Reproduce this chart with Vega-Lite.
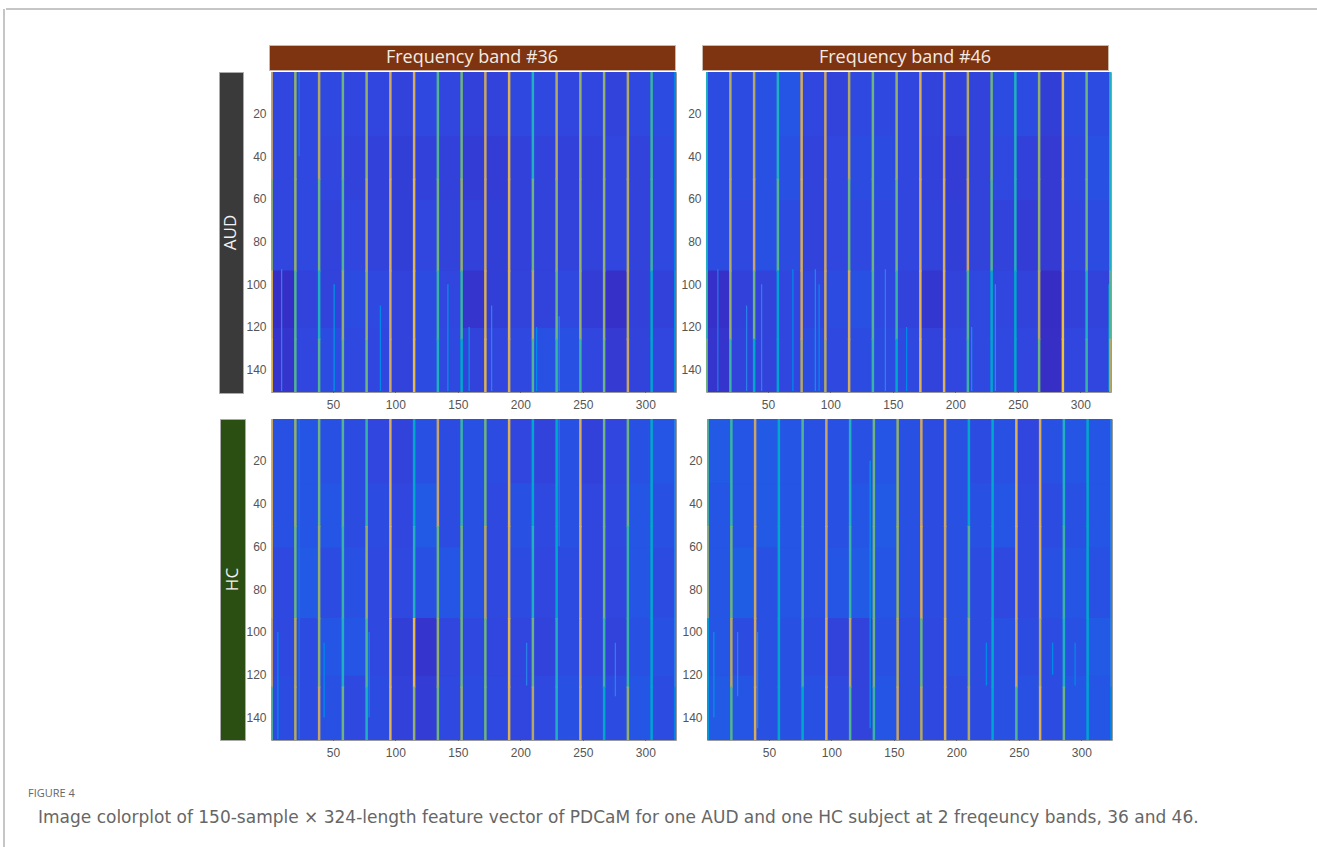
{"$schema":"https://vega.github.io/schema/vega-lite/v6.json","padding":{"left":3,"top":8,"right":0,"bottom":0},"background":"white","spacing":0,
"config":{"axis":{"labelFont":"Liberation Sans","labelFontSize":12,"labelColor":"#555","grid":false,"domain":false,"title":null,"tickColor":"#333","tickSize":-3,"labelPadding":10,"labelFlush":false,"labelOverlap":false}},
"datasets":{"e":[{"t":""}],
"h1":[{"t":"Frequency band #36"}],"h2":[{"t":"Frequency band #46"}],"r1":[{"t":"AUD"}],"r2":[{"t":"HC"}],
"c1":[{"t":"FIGURE 4"}],"c2":[{"t":"Image colorplot of 150-sample × 324-length feature vector of PDCaM for one AUD and one HC subject at 2 freqeuncy bands, 36 and 46."}],
"f1":[{"x":9,"y":93,"y2":150,"v":50},{"x":23,"y":0,"y2":40,"v":46},{"x":51,"y":100,"y2":150,"v":55},{"x":88,"y":110,"y2":150,"v":52},{"x":142,"y":100,"y2":150,"v":55},{"x":159,"y":120,"y2":150,"v":55},{"x":177,"y":110,"y2":150,"v":50},{"x":213,"y":120,"y2":150,"v":52},{"x":231,"y":115,"y2":150,"v":50}],
"f2":[{"x":10,"y":93,"y2":150,"v":48},{"x":33,"y":110,"y2":150,"v":50},{"x":45,"y":100,"y2":150,"v":50},{"x":70,"y":93,"y2":150,"v":52},{"x":88,"y":93,"y2":150,"v":55},{"x":91,"y":100,"y2":150,"v":52},{"x":144,"y":93,"y2":150,"v":50},{"x":161,"y":120,"y2":150,"v":52},{"x":213,"y":120,"y2":150,"v":55},{"x":232,"y":100,"y2":150,"v":58},{"x":323,"y":100,"y2":150,"v":62}],
"f3":[{"x":6,"y":100,"y2":150,"v":52},{"x":23,"y":0,"y2":150,"v":44},{"x":43,"y":105,"y2":140,"v":52},{"x":79,"y":100,"y2":140,"v":52},{"x":205,"y":105,"y2":125,"v":50},{"x":231,"y":0,"y2":60,"v":48},{"x":276,"y":105,"y2":130,"v":50}],
"f4":[{"x":6,"y":100,"y2":140,"v":55},{"x":25,"y":100,"y2":130,"v":50},{"x":41,"y":100,"y2":145,"v":55},{"x":131,"y":20,"y2":145,"v":55},{"x":224,"y":105,"y2":125,"v":52},{"x":277,"y":105,"y2":120,"v":52},{"x":295,"y":105,"y2":125,"v":52}],
"b1":[{"x":1,"y":0,"v":34},{"x":1,"y":30,"v":34},{"x":1,"y":60,"v":34},{"x":1,"y":93,"v":24},{"x":1,"y":120,"v":27},{"x":20,"y":0,"v":35},{"x":20,"y":30,"v":35},{"x":20,"y":60,"v":35},{"x":20,"y":93,"v":33},{"x":20,"y":120,"v":34},{"x":39,"y":0,"v":35},{"x":39,"y":30,"v":34},{"x":39,"y":60,"v":33},{"x":39,"y":93,"v":33},{"x":39,"y":120,"v":36},{"x":58,"y":0,"v":34},{"x":58,"y":30,"v":33},{"x":58,"y":60,"v":34},{"x":58,"y":93,"v":36},{"x":58,"y":120,"v":35},{"x":77,"y":0,"v":34},{"x":77,"y":30,"v":32},{"x":77,"y":60,"v":33},{"x":77,"y":93,"v":35},{"x":77,"y":120,"v":34},{"x":96,"y":0,"v":33},{"x":96,"y":30,"v":31},{"x":96,"y":60,"v":31},{"x":96,"y":93,"v":33},{"x":96,"y":120,"v":33},{"x":115,"y":0,"v":35},{"x":115,"y":30,"v":32},{"x":115,"y":60,"v":34},{"x":115,"y":93,"v":36},{"x":115,"y":120,"v":36},{"x":134,"y":0,"v":34},{"x":134,"y":30,"v":32},{"x":134,"y":60,"v":33},{"x":134,"y":93,"v":34},{"x":134,"y":120,"v":35},{"x":153,"y":0,"v":32},{"x":153,"y":30,"v":30},{"x":153,"y":60,"v":32},{"x":153,"y":93,"v":27},{"x":153,"y":120,"v":33},{"x":172,"y":0,"v":33},{"x":172,"y":30,"v":30},{"x":172,"y":60,"v":31},{"x":172,"y":93,"v":31},{"x":172,"y":120,"v":34},{"x":191,"y":0,"v":35},{"x":191,"y":30,"v":32},{"x":191,"y":60,"v":32},{"x":191,"y":93,"v":33},{"x":191,"y":120,"v":35},{"x":210,"y":0,"v":35},{"x":210,"y":30,"v":33},{"x":210,"y":60,"v":33},{"x":210,"y":93,"v":33},{"x":210,"y":120,"v":37},{"x":229,"y":0,"v":34},{"x":229,"y":30,"v":32},{"x":229,"y":60,"v":33},{"x":229,"y":93,"v":35},{"x":229,"y":120,"v":37},{"x":248,"y":0,"v":34},{"x":248,"y":30,"v":32},{"x":248,"y":60,"v":33},{"x":248,"y":93,"v":30},{"x":248,"y":120,"v":34},{"x":267,"y":0,"v":33},{"x":267,"y":30,"v":34},{"x":267,"y":60,"v":34},{"x":267,"y":93,"v":25},{"x":267,"y":120,"v":29},{"x":286,"y":0,"v":35},{"x":286,"y":30,"v":33},{"x":286,"y":60,"v":33},{"x":286,"y":93,"v":32},{"x":286,"y":120,"v":33},{"x":305,"y":0,"v":36},{"x":305,"y":30,"v":35},{"x":305,"y":60,"v":35},{"x":305,"y":93,"v":32},{"x":305,"y":120,"v":34}],
"b2":[{"x":1,"y":0,"v":36},{"x":1,"y":30,"v":36},{"x":1,"y":60,"v":36},{"x":1,"y":93,"v":25},{"x":1,"y":120,"v":27},{"x":20,"y":0,"v":36},{"x":20,"y":30,"v":36},{"x":20,"y":60,"v":35},{"x":20,"y":93,"v":32},{"x":20,"y":120,"v":33},{"x":39,"y":0,"v":37},{"x":39,"y":30,"v":37},{"x":39,"y":60,"v":37},{"x":39,"y":93,"v":33},{"x":39,"y":120,"v":33},{"x":58,"y":0,"v":38},{"x":58,"y":30,"v":37},{"x":58,"y":60,"v":36},{"x":58,"y":93,"v":34},{"x":58,"y":120,"v":34},{"x":77,"y":0,"v":34},{"x":77,"y":30,"v":33},{"x":77,"y":60,"v":33},{"x":77,"y":93,"v":34},{"x":77,"y":120,"v":36},{"x":96,"y":0,"v":33},{"x":96,"y":30,"v":34},{"x":96,"y":60,"v":34},{"x":96,"y":93,"v":36},{"x":96,"y":120,"v":35},{"x":115,"y":0,"v":35},{"x":115,"y":30,"v":36},{"x":115,"y":60,"v":35},{"x":115,"y":93,"v":37},{"x":115,"y":120,"v":36},{"x":134,"y":0,"v":35},{"x":134,"y":30,"v":36},{"x":134,"y":60,"v":35},{"x":134,"y":93,"v":35},{"x":134,"y":120,"v":36},{"x":153,"y":0,"v":34},{"x":153,"y":30,"v":34},{"x":153,"y":60,"v":34},{"x":153,"y":93,"v":33},{"x":153,"y":120,"v":35},{"x":172,"y":0,"v":33},{"x":172,"y":30,"v":32},{"x":172,"y":60,"v":33},{"x":172,"y":93,"v":28},{"x":172,"y":120,"v":33},{"x":191,"y":0,"v":33},{"x":191,"y":30,"v":30},{"x":191,"y":60,"v":31},{"x":191,"y":93,"v":33},{"x":191,"y":120,"v":34},{"x":210,"y":0,"v":33},{"x":210,"y":30,"v":33},{"x":210,"y":60,"v":33},{"x":210,"y":93,"v":35},{"x":210,"y":120,"v":35},{"x":229,"y":0,"v":36},{"x":229,"y":30,"v":35},{"x":229,"y":60,"v":33},{"x":229,"y":93,"v":34},{"x":229,"y":120,"v":35},{"x":248,"y":0,"v":36},{"x":248,"y":30,"v":32},{"x":248,"y":60,"v":30},{"x":248,"y":93,"v":33},{"x":248,"y":120,"v":34},{"x":267,"y":0,"v":31},{"x":267,"y":30,"v":29},{"x":267,"y":60,"v":29},{"x":267,"y":93,"v":21},{"x":267,"y":120,"v":22},{"x":286,"y":0,"v":36},{"x":286,"y":30,"v":35},{"x":286,"y":60,"v":34},{"x":286,"y":93,"v":32},{"x":286,"y":120,"v":34},{"x":305,"y":0,"v":36},{"x":305,"y":30,"v":37},{"x":305,"y":60,"v":36},{"x":305,"y":93,"v":33},{"x":305,"y":120,"v":34}],
"b3":[{"x":1,"y":0,"v":37},{"x":1,"y":30,"v":37},{"x":1,"y":60,"v":35},{"x":1,"y":93,"v":35},{"x":1,"y":120,"v":36},{"x":20,"y":0,"v":38},{"x":20,"y":30,"v":38},{"x":20,"y":60,"v":39},{"x":20,"y":93,"v":36},{"x":20,"y":120,"v":36},{"x":39,"y":0,"v":37},{"x":39,"y":30,"v":38},{"x":39,"y":60,"v":36},{"x":39,"y":93,"v":38},{"x":39,"y":120,"v":37},{"x":58,"y":0,"v":36},{"x":58,"y":30,"v":36},{"x":58,"y":60,"v":37},{"x":58,"y":93,"v":38},{"x":58,"y":120,"v":35},{"x":77,"y":0,"v":34},{"x":77,"y":30,"v":36},{"x":77,"y":60,"v":35},{"x":77,"y":93,"v":35},{"x":77,"y":120,"v":36},{"x":96,"y":0,"v":33},{"x":96,"y":30,"v":34},{"x":96,"y":60,"v":35},{"x":96,"y":93,"v":31},{"x":96,"y":120,"v":32},{"x":115,"y":0,"v":37},{"x":115,"y":30,"v":39},{"x":115,"y":60,"v":37},{"x":115,"y":93,"v":27},{"x":115,"y":120,"v":30},{"x":134,"y":0,"v":36},{"x":134,"y":30,"v":36},{"x":134,"y":60,"v":38},{"x":134,"y":93,"v":34},{"x":134,"y":120,"v":35},{"x":153,"y":0,"v":37},{"x":153,"y":30,"v":37},{"x":153,"y":60,"v":37},{"x":153,"y":93,"v":35},{"x":153,"y":120,"v":36},{"x":172,"y":0,"v":36},{"x":172,"y":30,"v":35},{"x":172,"y":60,"v":35},{"x":172,"y":93,"v":34},{"x":172,"y":120,"v":35},{"x":191,"y":0,"v":34},{"x":191,"y":30,"v":37},{"x":191,"y":60,"v":36},{"x":191,"y":93,"v":34},{"x":191,"y":120,"v":34},{"x":210,"y":0,"v":33},{"x":210,"y":30,"v":35},{"x":210,"y":60,"v":34},{"x":210,"y":93,"v":33},{"x":210,"y":120,"v":35},{"x":229,"y":0,"v":37},{"x":229,"y":30,"v":37},{"x":229,"y":60,"v":36},{"x":229,"y":93,"v":36},{"x":229,"y":120,"v":37},{"x":248,"y":0,"v":32},{"x":248,"y":30,"v":34},{"x":248,"y":60,"v":34},{"x":248,"y":93,"v":34},{"x":248,"y":120,"v":36},{"x":267,"y":0,"v":34},{"x":267,"y":30,"v":35},{"x":267,"y":60,"v":34},{"x":267,"y":93,"v":33},{"x":267,"y":120,"v":36},{"x":286,"y":0,"v":37},{"x":286,"y":30,"v":38},{"x":286,"y":60,"v":38},{"x":286,"y":93,"v":37},{"x":286,"y":120,"v":38},{"x":305,"y":0,"v":38},{"x":305,"y":30,"v":37},{"x":305,"y":60,"v":36},{"x":305,"y":93,"v":37},{"x":305,"y":120,"v":36}],
"b4":[{"x":1,"y":0,"v":39},{"x":1,"y":30,"v":38},{"x":1,"y":60,"v":38},{"x":1,"y":93,"v":38},{"x":1,"y":120,"v":39},{"x":20,"y":0,"v":38},{"x":20,"y":30,"v":38},{"x":20,"y":60,"v":40},{"x":20,"y":93,"v":36},{"x":20,"y":120,"v":38},{"x":39,"y":0,"v":39},{"x":39,"y":30,"v":39},{"x":39,"y":60,"v":37},{"x":39,"y":93,"v":37},{"x":39,"y":120,"v":37},{"x":58,"y":0,"v":38},{"x":58,"y":30,"v":38},{"x":58,"y":60,"v":38},{"x":58,"y":93,"v":37},{"x":58,"y":120,"v":37},{"x":77,"y":0,"v":37},{"x":77,"y":30,"v":37},{"x":77,"y":60,"v":37},{"x":77,"y":93,"v":36},{"x":77,"y":120,"v":37},{"x":96,"y":0,"v":37},{"x":96,"y":30,"v":37},{"x":96,"y":60,"v":38},{"x":96,"y":93,"v":33},{"x":96,"y":120,"v":35},{"x":115,"y":0,"v":37},{"x":115,"y":30,"v":38},{"x":115,"y":60,"v":39},{"x":115,"y":93,"v":33},{"x":115,"y":120,"v":33},{"x":134,"y":0,"v":38},{"x":134,"y":30,"v":39},{"x":134,"y":60,"v":38},{"x":134,"y":93,"v":37},{"x":134,"y":120,"v":38},{"x":153,"y":0,"v":37},{"x":153,"y":30,"v":37},{"x":153,"y":60,"v":37},{"x":153,"y":93,"v":36},{"x":153,"y":120,"v":36},{"x":172,"y":0,"v":36},{"x":172,"y":30,"v":36},{"x":172,"y":60,"v":36},{"x":172,"y":93,"v":35},{"x":172,"y":120,"v":35},{"x":191,"y":0,"v":37},{"x":191,"y":30,"v":37},{"x":191,"y":60,"v":37},{"x":191,"y":93,"v":37},{"x":191,"y":120,"v":36},{"x":210,"y":0,"v":36},{"x":210,"y":30,"v":37},{"x":210,"y":60,"v":36},{"x":210,"y":93,"v":36},{"x":210,"y":120,"v":36},{"x":229,"y":0,"v":37},{"x":229,"y":30,"v":38},{"x":229,"y":60,"v":35},{"x":229,"y":93,"v":37},{"x":229,"y":120,"v":37},{"x":248,"y":0,"v":34},{"x":248,"y":30,"v":35},{"x":248,"y":60,"v":35},{"x":248,"y":93,"v":36},{"x":248,"y":120,"v":37},{"x":267,"y":0,"v":37},{"x":267,"y":30,"v":36},{"x":267,"y":60,"v":37},{"x":267,"y":93,"v":36},{"x":267,"y":120,"v":36},{"x":286,"y":0,"v":38},{"x":286,"y":30,"v":37},{"x":286,"y":60,"v":38},{"x":286,"y":93,"v":37},{"x":286,"y":120,"v":38},{"x":305,"y":0,"v":38},{"x":305,"y":30,"v":38},{"x":305,"y":60,"v":37},{"x":305,"y":93,"v":39},{"x":305,"y":120,"v":38}],
"s1":[{"x":1,"y":0,"v":80},{"x":1,"y":50,"v":75},{"x":1,"y":93,"v":90},{"x":1,"y":125,"v":95},{"x":20,"y":0,"v":75},{"x":20,"y":50,"v":75},{"x":20,"y":93,"v":70},{"x":20,"y":125,"v":70},{"x":39,"y":0,"v":78},{"x":39,"y":50,"v":72},{"x":39,"y":93,"v":65},{"x":39,"y":125,"v":70},{"x":58,"y":0,"v":72},{"x":58,"y":50,"v":70},{"x":58,"y":93,"v":75},{"x":58,"y":125,"v":72},{"x":77,"y":0,"v":75},{"x":77,"y":50,"v":78},{"x":77,"y":93,"v":75},{"x":77,"y":125,"v":72},{"x":96,"y":0,"v":82},{"x":96,"y":50,"v":85},{"x":96,"y":93,"v":82},{"x":96,"y":125,"v":82},{"x":115,"y":0,"v":85},{"x":115,"y":50,"v":90},{"x":115,"y":93,"v":92},{"x":115,"y":125,"v":92},{"x":134,"y":0,"v":70},{"x":134,"y":50,"v":72},{"x":134,"y":93,"v":68},{"x":134,"y":125,"v":65},{"x":153,"y":0,"v":72},{"x":153,"y":50,"v":75},{"x":153,"y":93,"v":68},{"x":153,"y":125,"v":62},{"x":172,"y":0,"v":80},{"x":172,"y":50,"v":80},{"x":172,"y":93,"v":85},{"x":172,"y":125,"v":88},{"x":191,"y":0,"v":88},{"x":191,"y":50,"v":88},{"x":191,"y":93,"v":88},{"x":191,"y":125,"v":85},{"x":210,"y":0,"v":65},{"x":210,"y":50,"v":72},{"x":210,"y":93,"v":78},{"x":210,"y":125,"v":70},{"x":229,"y":0,"v":78},{"x":229,"y":50,"v":75},{"x":229,"y":93,"v":72},{"x":229,"y":125,"v":68},{"x":248,"y":0,"v":75},{"x":248,"y":50,"v":75},{"x":248,"y":93,"v":75},{"x":248,"y":125,"v":68},{"x":267,"y":0,"v":75},{"x":267,"y":50,"v":75},{"x":267,"y":93,"v":75},{"x":267,"y":125,"v":72},{"x":286,"y":0,"v":78},{"x":286,"y":50,"v":78},{"x":286,"y":93,"v":78},{"x":286,"y":125,"v":80},{"x":305,"y":0,"v":68},{"x":305,"y":50,"v":68},{"x":305,"y":93,"v":62},{"x":305,"y":125,"v":60},{"x":324,"y":0,"v":52},{"x":324,"y":50,"v":52},{"x":324,"y":93,"v":55},{"x":324,"y":125,"v":55}],
"s2":[{"x":1,"y":0,"v":65},{"x":1,"y":50,"v":65},{"x":1,"y":93,"v":68},{"x":1,"y":125,"v":72},{"x":20,"y":0,"v":78},{"x":20,"y":50,"v":78},{"x":20,"y":93,"v":75},{"x":20,"y":125,"v":68},{"x":39,"y":0,"v":78},{"x":39,"y":50,"v":80},{"x":39,"y":93,"v":72},{"x":39,"y":125,"v":62},{"x":58,"y":0,"v":65},{"x":58,"y":50,"v":70},{"x":58,"y":93,"v":60},{"x":58,"y":125,"v":60},{"x":77,"y":0,"v":85},{"x":77,"y":50,"v":85},{"x":77,"y":93,"v":82},{"x":77,"y":125,"v":78},{"x":96,"y":0,"v":80},{"x":96,"y":50,"v":80},{"x":96,"y":93,"v":82},{"x":96,"y":125,"v":78},{"x":115,"y":0,"v":78},{"x":115,"y":50,"v":72},{"x":115,"y":93,"v":85},{"x":115,"y":125,"v":85},{"x":134,"y":0,"v":72},{"x":134,"y":50,"v":72},{"x":134,"y":93,"v":70},{"x":134,"y":125,"v":68},{"x":153,"y":0,"v":75},{"x":153,"y":50,"v":72},{"x":153,"y":93,"v":68},{"x":153,"y":125,"v":62},{"x":172,"y":0,"v":85},{"x":172,"y":50,"v":85},{"x":172,"y":93,"v":88},{"x":172,"y":125,"v":88},{"x":191,"y":0,"v":82},{"x":191,"y":50,"v":85},{"x":191,"y":93,"v":88},{"x":191,"y":125,"v":88},{"x":210,"y":0,"v":78},{"x":210,"y":50,"v":80},{"x":210,"y":93,"v":70},{"x":210,"y":125,"v":68},{"x":229,"y":0,"v":72},{"x":229,"y":50,"v":70},{"x":229,"y":93,"v":62},{"x":229,"y":125,"v":60},{"x":248,"y":0,"v":65},{"x":248,"y":50,"v":65},{"x":248,"y":93,"v":62},{"x":248,"y":125,"v":62},{"x":267,"y":0,"v":75},{"x":267,"y":50,"v":75},{"x":267,"y":93,"v":78},{"x":267,"y":125,"v":72},{"x":286,"y":0,"v":92},{"x":286,"y":50,"v":92},{"x":286,"y":93,"v":95},{"x":286,"y":125,"v":98},{"x":305,"y":0,"v":72},{"x":305,"y":50,"v":72},{"x":305,"y":93,"v":65},{"x":305,"y":125,"v":68},{"x":324,"y":0,"v":65},{"x":324,"y":50,"v":65},{"x":324,"y":93,"v":70},{"x":324,"y":125,"v":78}],
"s3":[{"x":1,"y":0,"v":88},{"x":1,"y":50,"v":88},{"x":1,"y":93,"v":80},{"x":1,"y":125,"v":70},{"x":20,"y":0,"v":75},{"x":20,"y":50,"v":72},{"x":20,"y":93,"v":78},{"x":20,"y":125,"v":78},{"x":39,"y":0,"v":72},{"x":39,"y":50,"v":75},{"x":39,"y":93,"v":75},{"x":39,"y":125,"v":80},{"x":58,"y":0,"v":70},{"x":58,"y":50,"v":68},{"x":58,"y":93,"v":65},{"x":58,"y":125,"v":72},{"x":77,"y":0,"v":68},{"x":77,"y":50,"v":75},{"x":77,"y":93,"v":70},{"x":77,"y":125,"v":65},{"x":96,"y":0,"v":85},{"x":96,"y":50,"v":85},{"x":96,"y":93,"v":88},{"x":96,"y":125,"v":88},{"x":115,"y":0,"v":62},{"x":115,"y":50,"v":65},{"x":115,"y":93,"v":92},{"x":115,"y":125,"v":75},{"x":134,"y":0,"v":80},{"x":134,"y":50,"v":72},{"x":134,"y":93,"v":75},{"x":134,"y":125,"v":72},{"x":153,"y":0,"v":68},{"x":153,"y":50,"v":72},{"x":153,"y":93,"v":72},{"x":153,"y":125,"v":75},{"x":172,"y":0,"v":72},{"x":172,"y":50,"v":78},{"x":172,"y":93,"v":72},{"x":172,"y":125,"v":72},{"x":191,"y":0,"v":88},{"x":191,"y":50,"v":85},{"x":191,"y":93,"v":90},{"x":191,"y":125,"v":88},{"x":210,"y":0,"v":62},{"x":210,"y":50,"v":65},{"x":210,"y":93,"v":72},{"x":210,"y":125,"v":78},{"x":229,"y":0,"v":62},{"x":229,"y":50,"v":62},{"x":229,"y":93,"v":65},{"x":229,"y":125,"v":65},{"x":248,"y":0,"v":85},{"x":248,"y":50,"v":85},{"x":248,"y":93,"v":85},{"x":248,"y":125,"v":85},{"x":267,"y":0,"v":72},{"x":267,"y":50,"v":72},{"x":267,"y":93,"v":68},{"x":267,"y":125,"v":62},{"x":286,"y":0,"v":72},{"x":286,"y":50,"v":68},{"x":286,"y":93,"v":68},{"x":286,"y":125,"v":75},{"x":305,"y":0,"v":62},{"x":305,"y":50,"v":62},{"x":305,"y":93,"v":60},{"x":305,"y":125,"v":60},{"x":324,"y":0,"v":50},{"x":324,"y":50,"v":50},{"x":324,"y":93,"v":50},{"x":324,"y":125,"v":52}],
"s4":[{"x":1,"y":0,"v":70},{"x":1,"y":50,"v":75},{"x":1,"y":93,"v":60},{"x":1,"y":125,"v":58},{"x":20,"y":0,"v":68},{"x":20,"y":50,"v":72},{"x":20,"y":93,"v":78},{"x":20,"y":125,"v":70},{"x":39,"y":0,"v":80},{"x":39,"y":50,"v":82},{"x":39,"y":93,"v":82},{"x":39,"y":125,"v":85},{"x":58,"y":0,"v":62},{"x":58,"y":50,"v":62},{"x":58,"y":93,"v":62},{"x":58,"y":125,"v":62},{"x":77,"y":0,"v":70},{"x":77,"y":50,"v":70},{"x":77,"y":93,"v":68},{"x":77,"y":125,"v":62},{"x":96,"y":0,"v":80},{"x":96,"y":50,"v":80},{"x":96,"y":93,"v":85},{"x":96,"y":125,"v":85},{"x":115,"y":0,"v":65},{"x":115,"y":50,"v":68},{"x":115,"y":93,"v":78},{"x":115,"y":125,"v":70},{"x":134,"y":0,"v":72},{"x":134,"y":50,"v":72},{"x":134,"y":93,"v":72},{"x":134,"y":125,"v":68},{"x":153,"y":0,"v":75},{"x":153,"y":50,"v":75},{"x":153,"y":93,"v":78},{"x":153,"y":125,"v":80},{"x":172,"y":0,"v":82},{"x":172,"y":50,"v":85},{"x":172,"y":93,"v":72},{"x":172,"y":125,"v":78},{"x":191,"y":0,"v":82},{"x":191,"y":50,"v":80},{"x":191,"y":93,"v":85},{"x":191,"y":125,"v":85},{"x":210,"y":0,"v":62},{"x":210,"y":50,"v":70},{"x":210,"y":93,"v":75},{"x":210,"y":125,"v":78},{"x":229,"y":0,"v":62},{"x":229,"y":50,"v":62},{"x":229,"y":93,"v":62},{"x":229,"y":125,"v":60},{"x":248,"y":0,"v":88},{"x":248,"y":50,"v":85},{"x":248,"y":93,"v":82},{"x":248,"y":125,"v":70},{"x":267,"y":0,"v":85},{"x":267,"y":50,"v":85},{"x":267,"y":93,"v":78},{"x":267,"y":125,"v":85},{"x":286,"y":0,"v":65},{"x":286,"y":50,"v":68},{"x":286,"y":93,"v":65},{"x":286,"y":125,"v":72},{"x":305,"y":0,"v":62},{"x":305,"y":50,"v":62},{"x":305,"y":93,"v":60},{"x":305,"y":125,"v":60},{"x":324,"y":0,"v":50},{"x":324,"y":50,"v":50},{"x":324,"y":93,"v":50},{"x":324,"y":125,"v":52}]},
"hconcat":[
{"width":1,"height":838,"data":{"name":"e"},"mark":{"type":"rule","color":"#8c8c8c"},"encoding":{"x":{"datum":0,"type":"quantitative","scale":{"domain":[0,1]},"axis":null}},"view":{"stroke":null}},
{"spacing":0,"vconcat":[
{"width":1313,"height":35,"data":{"name":"e"},"mark":{"type":"rule","color":"#8c8c8c"},"encoding":{"y":{"datum":0,"type":"quantitative","scale":{"domain":[0,1],"reverse":true},"axis":null}},"view":{"stroke":null}},
{"bounds":"flush","spacing":0,"hconcat":[
{"width":263,"height":25,"data":{"name":"e"},"mark":"text","encoding":{"text":{"field":"t"}},"view":{"stroke":null}},
{"width":406,"height":25,"data":{"name":"h1"},"mark":{"type":"text","font":"Open Sans","fontSize":18,"color":"#f2ebe4"},"encoding":{"text":{"field":"t"}},"view":{"fill":"#7e3410","stroke":"#c9b8aa"}},
{"width":27,"height":25,"data":{"name":"e"},"mark":"text","encoding":{"text":{"field":"t"}},"view":{"stroke":null}},
{"width":406,"height":25,"data":{"name":"h2"},"mark":{"type":"text","font":"Open Sans","fontSize":18,"color":"#f2ebe4"},"encoding":{"text":{"field":"t"}},"view":{"fill":"#7e3410","stroke":"#c9b8aa"}}]},
{"bounds":"flush","spacing":0,"hconcat":[
{"width":213,"height":320,"data":{"name":"e"},"mark":"text","encoding":{"text":{"field":"t"}},"view":{"stroke":null}},
{"width":24,"height":321,"data":{"name":"r1"},"mark":{"type":"text","font":"Open Sans","fontSize":17,"color":"#f2f2f2","angle":270},"encoding":{"text":{"field":"t"}},"view":{"fill":"#3a3a3a","stroke":"#aaaaaa"}},
{"width":28,"height":320,"data":{"name":"e"},"mark":"text","encoding":{"text":{"field":"t"}},"view":{"stroke":null}},
{"width":405,"height":320,"view":{"stroke":"#9a9a9a"},"layer":[
{"data":{"name":"b1"},"transform":[{"calculate":"datum.x-0.5","as":"a"},{"calculate":"datum.x+19","as":"b"},{"calculate":"{'0':30,'30':60,'60':93,'93':120,'120':150}[datum.y]+1","as":"y2"},{"calculate":"datum.y+0.5","as":"y1"}],"mark":{"type":"rect","clip":true},"encoding":{"x":{"field":"a","type":"quantitative","scale":{"domain":[0.5,324.5],"nice":false,"zero":false},"axis":{"values":[50,100,150,200,250,300],"orient":"bottom"}},"x2":{"field":"b"},"y":{"field":"y1","type":"quantitative","scale":{"domain":[150.5,0.5],"nice":false,"zero":false},"axis":{"values":[20,40,60,80,100,120,140],"labelPadding":8}},"y2":{"field":"y2"},"color":{"field":"v","type":"quantitative","scale":{"domain":[0,25,35,50,65,80,100],"range":["#3523b0","#3630c8","#2f48e0","#2a80e8","#20b0c0","#c8a468","#f5c81e"]},"legend":null}}},
{"data":{"name":"f1"},"transform":[{"calculate":"datum.x-0.5","as":"a"},{"calculate":"datum.x+0.5","as":"b"}],"mark":{"type":"rect","clip":true},"encoding":{"x":{"field":"a","type":"quantitative"},"x2":{"field":"b"},"y":{"field":"y","type":"quantitative"},"y2":{"field":"y2"},"color":{"field":"v","type":"quantitative","legend":null}}},
{"data":{"name":"s1"},"transform":[{"calculate":"datum.x-1","as":"a"},{"calculate":"datum.x+1","as":"b"},{"calculate":"{'0':50,'50':93,'93':125,'125':150}[datum.y]+1","as":"y2"},{"calculate":"datum.y+0.5","as":"y1"}],"mark":{"type":"rect","clip":true},"encoding":{"x":{"field":"a","type":"quantitative"},"x2":{"field":"b"},"y":{"field":"y1","type":"quantitative"},"y2":{"field":"y2"},"color":{"field":"v","type":"quantitative","legend":null}}}]},
{"width":30,"height":320,"data":{"name":"e"},"mark":"text","encoding":{"text":{"field":"t"}},"view":{"stroke":null}},
{"width":405,"height":320,"view":{"stroke":"#9a9a9a"},"layer":[
{"data":{"name":"b2"},"transform":[{"calculate":"datum.x-0.5","as":"a"},{"calculate":"datum.x+19","as":"b"},{"calculate":"{'0':30,'30':60,'60':93,'93':120,'120':150}[datum.y]+1","as":"y2"},{"calculate":"datum.y+0.5","as":"y1"}],"mark":{"type":"rect","clip":true},"encoding":{"x":{"field":"a","type":"quantitative","scale":{"domain":[0.5,324.5],"nice":false,"zero":false},"axis":{"values":[50,100,150,200,250,300],"orient":"bottom"}},"x2":{"field":"b"},"y":{"field":"y1","type":"quantitative","scale":{"domain":[150.5,0.5],"nice":false,"zero":false},"axis":{"values":[20,40,60,80,100,120,140],"labelPadding":8}},"y2":{"field":"y2"},"color":{"field":"v","type":"quantitative","scale":{"domain":[0,25,35,50,65,80,100],"range":["#3523b0","#3630c8","#2f48e0","#2a80e8","#20b0c0","#c8a468","#f5c81e"]},"legend":null}}},
{"data":{"name":"f2"},"transform":[{"calculate":"datum.x-0.5","as":"a"},{"calculate":"datum.x+0.5","as":"b"}],"mark":{"type":"rect","clip":true},"encoding":{"x":{"field":"a","type":"quantitative"},"x2":{"field":"b"},"y":{"field":"y","type":"quantitative"},"y2":{"field":"y2"},"color":{"field":"v","type":"quantitative","legend":null}}},
{"data":{"name":"s2"},"transform":[{"calculate":"datum.x-1","as":"a"},{"calculate":"datum.x+1","as":"b"},{"calculate":"{'0':50,'50':93,'93':125,'125':150}[datum.y]+1","as":"y2"},{"calculate":"datum.y+0.5","as":"y1"}],"mark":{"type":"rect","clip":true},"encoding":{"x":{"field":"a","type":"quantitative"},"x2":{"field":"b"},"y":{"field":"y1","type":"quantitative"},"y2":{"field":"y2"},"color":{"field":"v","type":"quantitative","legend":null}}}]}]},
{"width":1,"height":7,"data":{"name":"e"},"mark":{"type":"rule","opacity":0},"encoding":{"y":{"datum":0,"type":"quantitative","scale":{"domain":[0,1]},"axis":null}},"view":{"stroke":null}},
{"bounds":"flush","spacing":0,"hconcat":[
{"width":214,"height":321,"data":{"name":"e"},"mark":"text","encoding":{"text":{"field":"t"}},"view":{"stroke":null}},
{"width":25,"height":321,"data":{"name":"r2"},"mark":{"type":"text","font":"Open Sans","fontSize":17,"color":"#f2f2f2","angle":270},"encoding":{"text":{"field":"t"}},"view":{"fill":"#2b4f13","stroke":"#aaaaaa"}},
{"width":26,"height":321,"data":{"name":"e"},"mark":"text","encoding":{"text":{"field":"t"}},"view":{"stroke":null}},
{"width":405,"height":321,"view":{"stroke":"#9a9a9a"},"layer":[
{"data":{"name":"b3"},"transform":[{"calculate":"datum.x-0.5","as":"a"},{"calculate":"datum.x+19","as":"b"},{"calculate":"{'0':30,'30':60,'60':93,'93':120,'120':150}[datum.y]+1","as":"y2"},{"calculate":"datum.y+0.5","as":"y1"}],"mark":{"type":"rect","clip":true},"encoding":{"x":{"field":"a","type":"quantitative","scale":{"domain":[0.5,324.5],"nice":false,"zero":false},"axis":{"values":[50,100,150,200,250,300],"orient":"bottom"}},"x2":{"field":"b"},"y":{"field":"y1","type":"quantitative","scale":{"domain":[150.5,0.5],"nice":false,"zero":false},"axis":{"values":[20,40,60,80,100,120,140],"labelPadding":8}},"y2":{"field":"y2"},"color":{"field":"v","type":"quantitative","scale":{"domain":[0,25,35,50,65,80,100],"range":["#3523b0","#3630c8","#2f48e0","#2a80e8","#20b0c0","#c8a468","#f5c81e"]},"legend":null}}},
{"data":{"name":"f3"},"transform":[{"calculate":"datum.x-0.5","as":"a"},{"calculate":"datum.x+0.5","as":"b"}],"mark":{"type":"rect","clip":true},"encoding":{"x":{"field":"a","type":"quantitative"},"x2":{"field":"b"},"y":{"field":"y","type":"quantitative"},"y2":{"field":"y2"},"color":{"field":"v","type":"quantitative","legend":null}}},
{"data":{"name":"s3"},"transform":[{"calculate":"datum.x-1","as":"a"},{"calculate":"datum.x+1","as":"b"},{"calculate":"{'0':50,'50':93,'93':125,'125':150}[datum.y]+1","as":"y2"},{"calculate":"datum.y+0.5","as":"y1"}],"mark":{"type":"rect","clip":true},"encoding":{"x":{"field":"a","type":"quantitative"},"x2":{"field":"b"},"y":{"field":"y1","type":"quantitative"},"y2":{"field":"y2"},"color":{"field":"v","type":"quantitative","legend":null}}}]},
{"width":31,"height":321,"data":{"name":"e"},"mark":"text","encoding":{"text":{"field":"t"}},"view":{"stroke":null}},
{"width":405,"height":321,"view":{"stroke":"#9a9a9a"},"layer":[
{"data":{"name":"b4"},"transform":[{"calculate":"datum.x-0.5","as":"a"},{"calculate":"datum.x+19","as":"b"},{"calculate":"{'0':30,'30':60,'60':93,'93':120,'120':150}[datum.y]+1","as":"y2"},{"calculate":"datum.y+0.5","as":"y1"}],"mark":{"type":"rect","clip":true},"encoding":{"x":{"field":"a","type":"quantitative","scale":{"domain":[0.5,324.5],"nice":false,"zero":false},"axis":{"values":[50,100,150,200,250,300],"orient":"bottom"}},"x2":{"field":"b"},"y":{"field":"y1","type":"quantitative","scale":{"domain":[150.5,0.5],"nice":false,"zero":false},"axis":{"values":[20,40,60,80,100,120,140],"labelPadding":8}},"y2":{"field":"y2"},"color":{"field":"v","type":"quantitative","scale":{"domain":[0,25,35,50,65,80,100],"range":["#3523b0","#3630c8","#2f48e0","#2a80e8","#20b0c0","#c8a468","#f5c81e"]},"legend":null}}},
{"data":{"name":"f4"},"transform":[{"calculate":"datum.x-0.5","as":"a"},{"calculate":"datum.x+0.5","as":"b"}],"mark":{"type":"rect","clip":true},"encoding":{"x":{"field":"a","type":"quantitative"},"x2":{"field":"b"},"y":{"field":"y","type":"quantitative"},"y2":{"field":"y2"},"color":{"field":"v","type":"quantitative","legend":null}}},
{"data":{"name":"s4"},"transform":[{"calculate":"datum.x-1","as":"a"},{"calculate":"datum.x+1","as":"b"},{"calculate":"{'0':50,'50':93,'93':125,'125':150}[datum.y]+1","as":"y2"},{"calculate":"datum.y+0.5","as":"y1"}],"mark":{"type":"rect","clip":true},"encoding":{"x":{"field":"a","type":"quantitative"},"x2":{"field":"b"},"y":{"field":"y1","type":"quantitative"},"y2":{"field":"y2"},"color":{"field":"v","type":"quantitative","legend":null}}}]}]},
{"width":1,"height":29,"data":{"name":"e"},"mark":{"type":"rule","opacity":0},"encoding":{"y":{"datum":0,"type":"quantitative","scale":{"domain":[0,1]},"axis":null}},"view":{"stroke":null}},
{"width":1300,"height":39,"view":{"stroke":null},"layer":[
{"data":{"name":"c1"},"mark":{"type":"text","font":"Open Sans","fontSize":11,"color":"#666","align":"left","baseline":"top","dx":22},"encoding":{"text":{"field":"t"},"x":{"datum":0,"type":"quantitative","scale":{"domain":[0,1]},"axis":null},"y":{"datum":1,"type":"quantitative","scale":{"domain":[0,1]},"axis":null}}},
{"data":{"name":"c2"},"mark":{"type":"text","font":"DejaVu Sans","fontSize":17,"color":"#666","align":"left","baseline":"bottom","dx":32},"encoding":{"text":{"field":"t"},"x":{"datum":0,"type":"quantitative","scale":{"domain":[0,1]},"axis":null},"y":{"datum":0,"type":"quantitative","scale":{"domain":[0,1]},"axis":null}}}]}
]}
]}
